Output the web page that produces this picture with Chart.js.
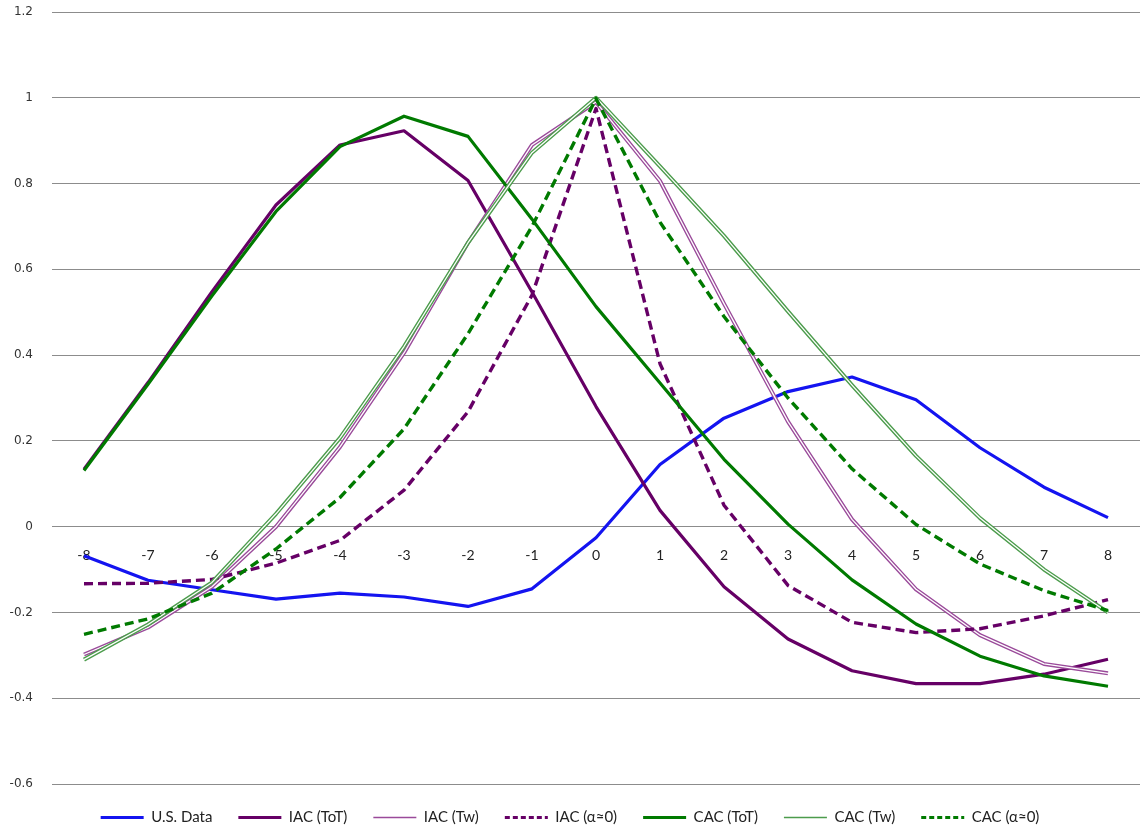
<!DOCTYPE html>
<html>
<head>
<meta charset="utf-8">
<script src="https://cdn.jsdelivr.net/npm/chart.js@4"></script>
<style>
  html, body { margin: 0; padding: 0; background: #fff; }
  #wrap { width: 1140px; height: 831px; }
</style>
</head>
<body>
<div id="wrap"><canvas id="chart"></canvas></div>
<script>
// eixo x: defasagens
const lags = ['-8', '-7', '-6', '-5', '-4', '-3', '-2', '-1', '0', '1', '2', '3', '4', '5', '6', '7', '8'];

// series
const usData = [-0.068, -0.125, -0.147, -0.169, -0.155, -0.164, -0.186, -0.145, -0.026, 0.145, 0.253, 0.315, 0.349, 0.296, 0.184, 0.092, 0.021];
const iacToT = [0.134, 0.336, 0.548, 0.75, 0.89, 0.923, 0.807, 0.547, 0.28, 0.038, -0.14, -0.262, -0.336, -0.366, -0.366, -0.344, -0.309];
const iacTw = [-0.298, -0.235, -0.14, 0.0, 0.186, 0.405, 0.662, 0.89, 0.99, 0.806, 0.52, 0.245, 0.017, -0.146, -0.253, -0.32, -0.342];
const iacA0 = [-0.133, -0.132, -0.123, -0.085, -0.032, 0.085, 0.268, 0.54, 0.975, 0.38, 0.05, -0.137, -0.223, -0.247, -0.238, -0.208, -0.17];
const cacToT = [0.131, 0.332, 0.538, 0.735, 0.886, 0.957, 0.91, 0.717, 0.513, 0.335, 0.157, 0.006, -0.124, -0.227, -0.302, -0.348, -0.372];
const cacTw = [-0.31, -0.228, -0.13, 0.03, 0.207, 0.42, 0.662, 0.872, 1.0, 0.84, 0.678, 0.502, 0.33, 0.165, 0.02, -0.1, -0.2];
const cacA0 = [-0.251, -0.215, -0.155, -0.052, 0.068, 0.228, 0.45, 0.70, 0.998, 0.71, 0.49, 0.30, 0.135, 0.005, -0.087, -0.149, -0.196];

const seriesNames = ['U.S. Data', 'IAC (ToT)', 'IAC (Tw)', 'IAC (α≈0)', 'CAC (ToT)', 'CAC (Tw)', 'CAC (α≈0)'];

// linha dupla (contorno com centro branco) para as series Tw
const doubleLine = {
    id: 'doubleLine',
    afterDatasetDraw(chart, args) {
        const ds = chart.data.datasets[args.index];
        if (!ds.innerLine) return;
        const pts = args.meta.data;
        const ctx = chart.ctx;
        ctx.save();
        ctx.strokeStyle = '#ffffff';
        ctx.lineWidth = 1.3;
        ctx.lineJoin = 'round';
        ctx.beginPath();
        pts.forEach((p, i) => i === 0 ? ctx.moveTo(p.x, p.y) : ctx.lineTo(p.x, p.y));
        ctx.stroke();
        ctx.restore();
    }
};

const mkLine = (i, data, color, width, dash, inner) => ({
    label: seriesNames[i],
    data: data,
    borderColor: color,
    backgroundColor: color,
    borderWidth: width,
    borderDash: dash || [],
    innerLine: !!inner,
    pointRadius: 0,
    tension: 0,
    borderJoinStyle: 'round',
    order: 10 - i
});

document.addEventListener('DOMContentLoaded', () => {
    new Chart(document.getElementById('chart'), {
        type: 'line',
        data: {
            labels: lags,
            datasets: [
                mkLine(0, usData, '#1414f0', 3.2),
                mkLine(1, iacToT, '#660066', 3.2),
                mkLine(2, iacTw, '#9a4a9a', 4, null, true),
                mkLine(3, iacA0, '#660066', 3.4, [9, 5]),
                mkLine(4, cacToT, '#007a00', 3.2),
                mkLine(5, cacTw, '#4c9c4c', 4, null, true),
                mkLine(6, cacA0, '#007a00', 3.4, [9, 5])
            ]
        },
        plugins: [doubleLine],
        options: {
            responsive: true,
            maintainAspectRatio: false,
            animation: false,
            layout: { padding: { top: 12, right: 0, left: 0, bottom: -4 } },
            plugins: {
                tooltip: { enabled: false },
                legend: {
                    position: 'bottom',
                    labels: {
                        usePointStyle: true,
                        pointStyle: 'line',
                        pointStyleWidth: 43,
                        boxHeight: 10,
                        padding: 26,
                        color: '#222',
                        font: { family: 'Lato', size: 15 },
                        sort: (a, b) => a.datasetIndex - b.datasetIndex,
                        generateLabels(chart) {
                            const items = Chart.defaults.plugins.legend.labels.generateLabels(chart);
                            items.forEach(it => {
                                const ds = chart.data.datasets[it.datasetIndex];
                                it.pointStyle = 'line';
                                it.strokeStyle = ds.borderColor;
                                it.lineDash = ds.borderDash.length ? [5, 3] : [];
                                it.lineWidth = ds.innerLine ? 1.5 : 3;
                            });
                            return items;
                        }
                    }
                }
            },
            scales: {
                x: {
                    position: { y: 0 },
                    offset: true,
                    grid: { display: false },
                    border: { display: false },
                    ticks: {
                        padding: 12,
                        color: '#222',
                        maxRotation: 0,
                        font: { family: 'Lato', size: 14 }
                    }
                },
                y: {
                    min: -0.6,
                    max: 1.2,
                    afterFit(s) { s.width = 52; },
                    grid: { color: '#8c8c8c', lineWidth: 1, drawTicks: true, tickLength: 19, tickColor: 'rgba(0,0,0,0)' },
                    border: { display: false },
                    ticks: {
                        stepSize: 0.2,
                        padding: 0,
                        color: '#333',
                        font: { family: 'DejaVu Sans', size: 12 },
                        callback: v => String(Math.round(v * 10) / 10)
                    }
                }
            }
        }
    });
});
</script>
</body>
</html>
